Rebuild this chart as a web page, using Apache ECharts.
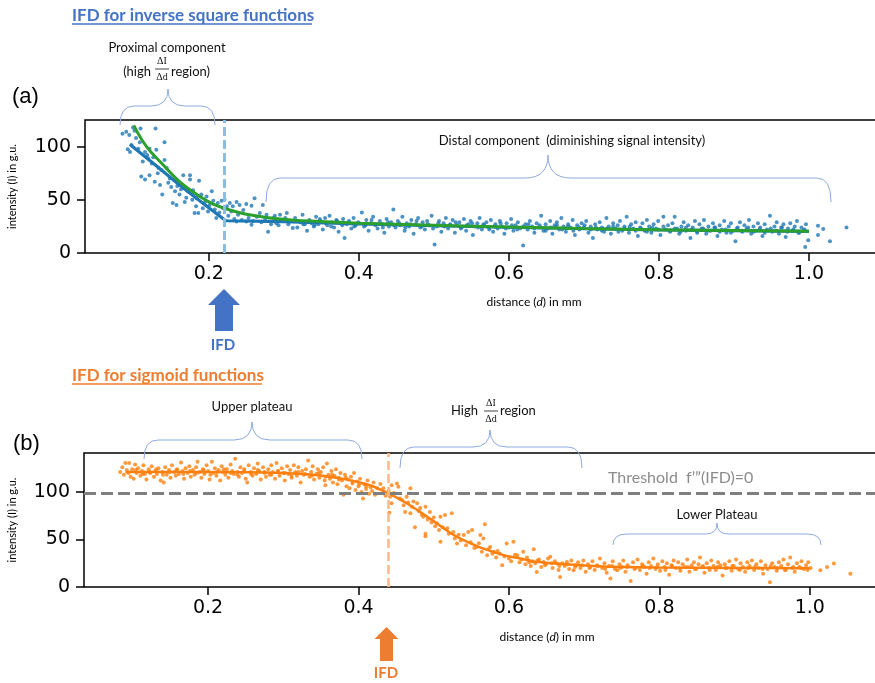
<!DOCTYPE html>
<html>
<head>
<meta charset="utf-8">
<script src="https://cdn.jsdelivr.net/npm/echarts@6/dist/echarts.min.js"></script>
<style>
  html, body { margin: 0; padding: 0; background: #fff; }
  #chart { width: 875px; height: 683px; }
</style>
</head>
<body>
<div id="chart"></div>
<script>
// tick labels
const xTicks = [0.2, 0.4, 0.6, 0.8, 1.0];
const yTicks = [0, 50, 100];

// IFD positions and threshold
const ifdA = 0.2227;
const ifdB = 0.437;
const thresholdB = 99;

// (a) inverse square: measured points
const scatterA = [
  [0.085,112],[0.090,114],[0.094,111],[0.099,118],[0.101,115],[0.109,117],[0.129,117],[0.141,104],
  [0.092,97.5],[0.095,95],[0.097,101.5],[0.106,98],[0.115,95],[0.121,98],[0.130,97],[0.112,86],
  [0.119,89],[0.124,84],[0.141,87.5],[0.110,72],[0.115,69],[0.121,73],[0.128,67],[0.135,64],
  [0.138,55],[0.132,75],[0.144,80],[0.148,70],[0.155,58],[0.152,47],[0.157,45],[0.161,55],
  [0.166,73],[0.168,48],[0.175,73],[0.175,69],[0.179,59],[0.181,37.5],[0.186,37.5],[0.187,68],
  [0.184,51.5],[0.190,55],[0.195,48],[0.199,39],[0.201,45],[0.204,58],[0.206,49],[0.210,33],
  [0.212,47],[0.217,49],[0.221,50],[0.224,44],[0.228,47],[0.232,44],[0.230,39],[0.237,48],
  [0.241,45],[0.246,40.5],[0.250,46],[0.257,44.5],[0.261,51.5],[0.257,26.5],[0.237,29.6],[0.250,29.6],
  [0.268,37.5],[0.272,45],[0.279,20],[0.277,36],[0.286,33],[0.295,36],[0.304,37.5],[0.308,29.6],
  [0.312,23.4],[0.290,28],
  [0.103,108],[0.108,104],[0.118,92],[0.126,90],[0.133,80],[0.137,78],[0.146,66],[0.150,62],
  [0.158,63],[0.163,60],[0.170,52],[0.172,58],[0.178,50],[0.183,44],[0.192,42],[0.197,53],
  [0.208,41],[0.214,38],[0.219,42],[0.226,35],[0.234,32],[0.239,36],[0.244,31],[0.253,33],
  [0.259,30],[0.264,34],[0.270,29],[0.275,31],[0.283,27],[0.288,35],[0.293,26],[0.299,30],
  [0.302,33],[0.306,27],
  [0.315,33],[0.318,24],[0.322,29],[0.325,36],[0.328,27],[0.331,21],[0.334,31],[0.337,28],
  [0.340,25],[0.343,34],[0.346,27],[0.349,30],[0.352,22],[0.355,33],[0.358,26],[0.361,35],
  [0.364,29],[0.367,24],[0.370,31],[0.373,20],[0.376,28],[0.379,32],[0.381,14],[0.384,27],
  [0.387,30],[0.390,23],[0.393,33],[0.396,26],[0.399,29],[0.404,38],[0.407,25],[0.410,31],
  [0.413,21],[0.416,28],[0.419,34],[0.422,26],[0.425,23],[0.428,30],[0.431,27],[0.434,19],
  [0.437,32],[0.440,25],[0.443,29],[0.446,41],[0.449,24],[0.452,30],[0.455,26],[0.458,34],
  [0.461,21],[0.464,28],[0.467,25],[0.470,31],[0.473,18],[0.476,27],[0.479,33],[0.482,24],
  [0.485,29],[0.488,22],[0.491,30],[0.494,26],[0.497,35],[0.501,8],[0.504,25],[0.507,30],
  [0.510,20],[0.513,28],[0.516,33],[0.519,23],[0.522,27],[0.525,31],[0.528,19],[0.531,26],
  [0.534,29],[0.537,24],[0.540,32],[0.543,21],[0.546,27],[0.549,30],[0.552,17],[0.555,25],
  [0.558,28],[0.561,33],[0.564,22],[0.567,26],[0.570,29],[0.573,24],[0.576,31],[0.579,20],
  [0.582,27],[0.585,23],[0.588,30],[0.591,25],[0.594,18],[0.597,28],[0.600,24],[0.603,32],
  [0.606,21],[0.609,26],[0.612,29],[0.615,23],[0.619,7],[0.622,27],[0.625,22],[0.628,30],
  [0.631,25],[0.634,19],[0.637,28],[0.640,24],[0.643,35],[0.646,21],[0.649,27],[0.652,23],
  [0.655,30],[0.658,18],[0.661,26],[0.664,29],[0.667,22],[0.670,33],[0.673,25],[0.676,20],
  [0.679,27],[0.682,24],[0.685,31],[0.688,17],[0.691,26],[0.694,22],[0.697,28],[0.700,24],
  [0.703,30],[0.706,19],[0.709,25],[0.712,14],[0.715,27],[0.718,22],[0.721,29],[0.724,24],
  [0.727,20],[0.730,33],[0.733,25],[0.736,18],[0.739,28],[0.742,23],[0.745,26],[0.748,30],
  [0.751,21],[0.754,25],[0.757,34],[0.760,19],[0.763,27],[0.766,23],[0.769,29],[0.772,16],
  [0.775,24],[0.778,28],[0.781,21],[0.784,31],[0.787,25],[0.790,19],[0.793,27],[0.796,23],
  [0.799,30],[0.802,17],[0.806,34],[0.809,22],[0.812,26],[0.815,20],[0.818,28],[0.821,34],
  [0.824,23],[0.827,18],[0.830,25],[0.833,29],[0.836,21],[0.839,26],[0.842,14],[0.845,24],
  [0.848,30],[0.851,20],[0.854,27],[0.857,23],[0.860,31],[0.863,18],[0.866,25],[0.869,21],
  [0.872,28],[0.875,24],[0.878,16],[0.881,26],[0.884,22],[0.887,30],[0.890,19],[0.893,25],
  [0.896,28],[0.899,21],[0.902,11],[0.905,24],[0.908,29],[0.911,20],[0.914,26],[0.917,23],
  [0.920,31],[0.923,18],[0.926,25],[0.929,21],[0.932,28],[0.935,24],[0.938,16],[0.941,27],
  [0.944,22],[0.948,35],[0.951,20],[0.954,25],[0.957,29],[0.960,18],[0.963,24],[0.966,27],
  [0.969,15],[0.972,23],[0.975,28],[0.978,21],[0.981,25],[0.984,30],[0.987,19],[0.990,24],
  [0.993,21],[0.996,27],[0.999,12],[0.995,5.6],[1.012,25.6],[1.019,22.5],[1.012,17],[1.028,11],
  [1.050,24],
  [0.317,30],[0.326,27],[0.333,29],[0.341,26],[0.348,32],[0.356,28],[0.363,25],[0.371,30],
  [0.378,26],[0.386,29],[0.394,25],[0.401,28],[0.409,26],[0.417,31],[0.424,27],[0.432,24],
  [0.439,29],[0.447,26],[0.454,28],[0.462,24],[0.469,27],[0.477,30],[0.484,25],[0.492,27],
  [0.499,23],[0.506,28],[0.514,25],[0.521,26],[0.529,29],[0.536,23],[0.544,26],[0.551,28],
  [0.559,24],[0.566,27],[0.574,22],[0.581,25],[0.589,28],[0.596,23],[0.604,26],[0.611,22],
  [0.619,25],[0.626,27],[0.634,23],[0.641,26],[0.649,21],[0.656,24],[0.664,26],[0.671,22],
  [0.679,25],[0.686,21],[0.694,24],[0.701,26],[0.709,22],[0.716,24],[0.724,21],[0.731,23],
  [0.739,25],[0.746,20],[0.754,23],[0.761,25],[0.769,21],[0.776,23],[0.784,20],[0.791,24],
  [0.799,22],[0.806,25],[0.814,21],[0.821,23],[0.829,20],[0.836,24],[0.844,22],[0.851,19],
  [0.859,23],[0.866,21],[0.874,24],[0.881,20],[0.889,22],[0.896,19],[0.904,23],[0.911,21],
  [0.919,24],[0.926,20],[0.934,22],[0.941,19],[0.949,23],[0.956,21],[0.964,24],[0.971,20],
  [0.979,22],[0.986,19],[0.994,22]
];

// (a) fits
const linearFitA = [
  [0.095,102],[0.13,82],[0.161,64],[0.19,48],[0.2227,30.3],[0.3,29.5],[0.4,27.3],
  [0.5,25.6],[0.6,24.2],[0.7,22.8],[0.8,21.7],[0.9,21],[1.0,20.3]
];
const curveFitA = [
  [0.1,120],[0.117,100],[0.139,83],[0.161,67],[0.184,55],[0.206,46],[0.228,40.5],[0.25,36.5],
  [0.295,32],[0.35,29.5],[0.4,28],[0.5,26],[0.6,24.4],[0.7,23],[0.8,21.9],[0.9,21.1],[1.0,20.5]
];

// (b) sigmoid: measured points
const scatterB = [
  [0.083,121],[0.086,126],[0.088,118],[0.090,130.6],[0.092,123],[0.095,130.6],[0.097,116],[0.099,124],
  [0.101,114],[0.103,129],[0.105,120],[0.107,125],[0.110,117],[0.112,122],[0.114,128],[0.116,119],
  [0.118,113],[0.121,124],[0.123,120],[0.125,127],[0.128,116],[0.130,122],[0.132,119],[0.134,125],
  [0.137,112],[0.139,121],[0.141,110],[0.143,126],[0.145,118],[0.148,123],[0.150,115],[0.152,128],
  [0.155,121],[0.157,117],[0.159,124],[0.161,119],[0.164,131],[0.166,122],[0.168,114],[0.170,125],
  [0.173,120],[0.175,127],[0.177,116],[0.180,123],[0.182,118],[0.184,126],[0.186,131.7],[0.189,121],
  [0.191,115],[0.193,124],[0.195,119],[0.198,128],[0.200,122],[0.202,113],[0.205,131.7],[0.207,120],
  [0.209,125],[0.211,117],[0.214,123],[0.216,112],[0.218,127],[0.220,121],[0.223,118],[0.225,124],
  [0.227,115],[0.230,129],[0.232,122],[0.234,119],[0.236,135],[0.239,121],[0.241,116],[0.243,126],
  [0.245,120],[0.248,124],[0.250,114],[0.252,110],[0.254,128],[0.257,121],[0.259,117],[0.261,125],
  [0.264,119],[0.266,130],[0.268,122],[0.270,113],[0.273,126],[0.275,120],[0.277,116],[0.280,124],
  [0.282,118],[0.284,128],[0.286,121],[0.289,114],[0.291,130.6],[0.293,122],[0.295,117],[0.298,125],
  [0.300,120],[0.302,112],[0.305,127],[0.307,119],[0.309,123],[0.311,115],[0.314,128],[0.316,121],
  [0.318,117],[0.320,126],[0.323,110],[0.325,122],[0.327,118],[0.330,124],[0.333,133],[0.335,116],
  [0.337,121],[0.339,127],[0.341,113],[0.344,119],[0.346,124],[0.348,115],[0.350,121],[0.353,126],
  [0.355,112],[0.356,107],[0.358,130],[0.360,118],[0.362,114],[0.364,122],[0.366,110],[0.368,117],
  [0.370,124],[0.372,108],[0.374,115],[0.376,120],[0.378,112],[0.380,97],[0.382,118],[0.384,106],
  [0.386,113],[0.388,104],[0.390,116],[0.392,109],[0.394,120],[0.396,102],[0.398,111],[0.400,106],
  [0.402,114],[0.404,100],[0.406,93],[0.408,108],[0.410,103],[0.412,112],[0.414,98],[0.416,105],
  [0.418,101],
  [0.420,110],[0.422,97],[0.425,104],[0.429,108.5],[0.433,104],[0.436,96],[0.440,101],[0.442,95],
  [0.444,107],[0.444,88],[0.441,78],[0.447,99],[0.451,109],[0.453,105.6],[0.455,93],[0.458,91.5],
  [0.460,86],[0.462,79],[0.464,95],[0.466,89],[0.469,104],[0.469,77.5],[0.471,84.5],[0.473,90],
  [0.475,63],[0.478,88],[0.480,80],[0.482,83],[0.484,76],[0.486,74],[0.489,84.5],[0.489,56],
  [0.489,53.5],[0.492,71],[0.495,79],[0.497,68],[0.500,73],[0.502,64],[0.504,67],[0.507,60],
  [0.509,74],[0.509,47.5],[0.512,63],[0.515,75.7],[0.518,61.7],[0.520,56],[0.524,77.5],[0.526,58],
  [0.528,51],[0.531,45.8],[0.533,55],[0.536,49],[0.540,54.6],[0.543,44],[0.546,58],[0.549,47],
  [0.551,60],[0.554,41],[0.557,42],[0.560,46],[0.562,54.6],[0.564,37],[0.566,51],[0.568,66],
  [0.571,33.5],[0.573,40],[0.575,42],[0.578,35],[0.580,37],[0.583,31],[0.585,38],[0.588,35],
  [0.591,23],[0.594,32],[0.597,45.8],[0.600,30],[0.603,27],[0.606,47.5],[0.608,34],[0.611,33.5],
  [0.614,26],[0.617,29],[0.619,37],[0.622,24],[0.624,31],[0.626,28],[0.629,22],[0.631,27],
  [0.633,39.8],[0.635,25],[0.637,15.8],[0.640,29],[0.643,21],[0.646,26.4],[0.649,24],[0.652,30],
  [0.655,31.7],[0.658,20],[0.661,27],[0.664,24.7],[0.666,18],[0.668,10.6],[0.671,25],[0.674,22],
  [0.677,26.4],[0.680,19],[0.683,28],[0.686,17.6],[0.689,23],[0.692,26],[0.695,20],[0.699,28],
  [0.702,16],[0.705,24],[0.708,21],[0.711,27],[0.714,18],[0.717,23],[0.721,30],[0.724,20],
  [0.727,25],[0.730,15],[0.733,22],[0.735,8.9],[0.738,27],[0.741,19],[0.744,17.6],[0.747,24],
  [0.750,21],[0.752,28],[0.755,16],[0.758,23],[0.762,6.3],[0.765,26],[0.768,20],[0.771,29],
  [0.774,18],[0.777,24],[0.780,21],[0.783,14],[0.786,26],[0.789,22],[0.792,30],[0.795,19],
  [0.798,24],[0.801,17],[0.804,27],[0.807,21],[0.810,25],[0.813,13],[0.816,23],[0.819,28],
  [0.822,20],[0.825,26],[0.828,17],[0.831,24],[0.834,21],[0.837,29],[0.840,16],[0.843,23],
  [0.846,26],[0.849,19],[0.852,24],[0.854,31],[0.857,21],[0.860,15],[0.863,25],[0.866,20],
  [0.869,28],[0.872,22],[0.875,18],[0.878,26],[0.881,23],[0.884,12],[0.887,24],[0.890,20],
  [0.893,27],[0.896,17],[0.899,22],[0.902,29],[0.905,19],[0.908,25],[0.911,21],[0.914,16],
  [0.917,26],[0.920,22],[0.923,28],[0.926,18],[0.929,24],[0.932,20],[0.935,27],[0.938,14],
  [0.941,23],[0.944,19],[0.947,5],[0.950,25],[0.953,21],[0.956,17],[0.959,26],[0.962,22],
  [0.965,29],[0.968,18],[0.971,24],[0.974,31],[0.977,20],[0.980,16],[0.983,25],[0.986,21],
  [0.989,27],[0.992,19],[0.995,23],[0.998,26],[1.001,20],[1.014,17.6],[1.023,21],[1.032,24.7],
  [1.054,14],
  [0.094,120],[0.104,123],[0.113,119],[0.122,121],[0.131,124],[0.140,118],[0.149,121],[0.158,123],
  [0.167,119],[0.176,122],[0.185,120],[0.194,123],[0.203,118],[0.212,121],[0.221,124],[0.230,120],
  [0.239,118],[0.248,122],[0.257,119],[0.266,123],[0.275,121],[0.284,118],[0.293,122],[0.302,120],
  [0.311,117],[0.320,121],[0.329,119],[0.338,117],[0.347,120],[0.356,116],[0.365,118],[0.374,113],
  [0.383,115],[0.392,111],[0.401,108],[0.410,106],
  [0.627,26],[0.638,28],[0.648,23],[0.657,25],[0.667,22],[0.678,24],[0.688,21],[0.697,23],
  [0.707,20],[0.718,22],[0.728,19],[0.737,22],[0.748,20],[0.757,21],[0.767,19],[0.778,22],
  [0.787,20],[0.797,21],[0.808,18],[0.817,22],[0.827,20],[0.838,21],[0.847,19],[0.858,22],
  [0.867,18],[0.877,21],[0.888,20],[0.897,22],[0.907,18],[0.918,20],[0.927,21],[0.937,19],
  [0.948,22],[0.957,20],[0.967,18],[0.978,21],[0.988,20],[0.997,18]
];

// (b) sigmoid fit
const sigmoidFitB = [
  [0.09,121],[0.2,121],[0.3,120],[0.34,118],[0.385,113],[0.415,107],[0.437,99.5],[0.46,90],
  [0.482,79],[0.504,67],[0.526,55],[0.549,46],[0.571,39],[0.593,33.5],[0.615,30],[0.637,26.5],
  [0.681,23.6],[0.726,21.5],[0.8,20.5],[0.9,20],[1.0,19.8]
];

const BLUE = '#1f77b4', GREEN = '#2ca02c', ORANGE = '#ff7f0e';
const OFFICE_BLUE = '#4472C4', OFFICE_ORANGE = '#ED7D31';
const BRACE = '#8FAADC';
const TICK_FONT = 'DejaVu Sans';
const NOTE_FONT = 'Lato';

function xAxisCfg(gridIndex) {
  return {
    type: 'value', gridIndex, min: 0.035, max: 1.104,
    axisLine: {show: false}, splitLine: {show: false},
    axisTick: {customValues: xTicks, length: 8, lineStyle: {color: '#000', width: 1.5}},
    axisLabel: {customValues: xTicks, formatter: v => v.toFixed(1), color: '#000',
      fontSize: 19, fontFamily: TICK_FONT, margin: 12}
  };
}
function yAxisCfg(gridIndex, max, gap) {
  return {
    type: 'value', gridIndex, min: 0, max,
    axisLine: {show: false}, splitLine: {show: false},
    axisTick: {customValues: yTicks, length: 8, lineStyle: {color: '#000', width: 1.5}},
    axisLabel: {customValues: yTicks, color: '#000', fontSize: 19, fontFamily: TICK_FONT, margin: 14},
    name: 'intensity (I) in g.u.', nameLocation: 'middle', nameGap: gap, nameRotate: 90,
    nameTextStyle: {fontSize: 11, fontFamily: NOTE_FONT, color: '#000'}
  };
}

// annotation helpers
function text(x, y, str, opts) {
  return {type: 'text', x, y, silent: true, style: Object.assign({
    text: str, fill: '#111', font: '13px ' + NOTE_FONT,
    textAlign: 'center', textVerticalAlign: 'middle', align: 'center', verticalAlign: 'middle'
  }, opts || {})};
}
function axisTitle(x, y) {
  return {type: 'text', x, y, silent: true, style: {
    text: 'distance ({i|d}) in mm', fill: '#000', fontSize: 12, fontFamily: NOTE_FONT,
    textAlign: 'center', textVerticalAlign: 'middle', align: 'center', verticalAlign: 'middle',
    rich: {i: {fontStyle: 'italic', fontSize: 12, fontFamily: NOTE_FONT, fill: '#000'}}
  }};
}
function seg(x1, y1, x2, y2) {
  return {type: 'line', silent: true, shape: {x1, y1, x2, y2},
    style: {stroke: BRACE, lineWidth: 1}};
}
function curve(x1, y1, cx, cy, x2, y2) {
  return {type: 'bezierCurve', silent: true,
    shape: {x1, y1, x2, y2, cpx1: cx, cpy1: cy},
    style: {fill: null, stroke: BRACE, lineWidth: 1}};
}
// curly brace opening downward onto a region
function brace(x1, x2, xm, yEnd, yBar, yTip) {
  const r = Math.min(14, (x2 - x1) / 6), t = yBar - yTip;
  return [
    curve(x1, yEnd, x1, yBar, x1 + r, yBar),
    seg(x1 + r, yBar, xm - t, yBar),
    curve(xm - t, yBar, xm, yBar, xm, yTip),
    curve(xm, yTip, xm, yBar, xm + t, yBar),
    seg(xm + t, yBar, x2 - r, yBar),
    curve(x2 - r, yBar, x2, yBar, x2, yEnd)
  ];
}
function arrow(cx, yTip, yHead, yEnd, headHalf, shaftHalf, color) {
  return {type: 'polygon', silent: true, shape: {points: [
    [cx, yTip], [cx + headHalf, yHead], [cx + shaftHalf, yHead], [cx + shaftHalf, yEnd],
    [cx - shaftHalf, yEnd], [cx - shaftHalf, yHead], [cx - headHalf, yHead]
  ]}, style: {fill: color}};
}
function frac(cx, yTop, yBar, yBot, half) {
  const f = '10px "Liberation Serif"';
  return [
    text(cx, yTop, '\u0394I', {font: f}),
    {type: 'line', silent: true, shape: {x1: cx - half, y1: yBar, x2: cx + half, y2: yBar},
      style: {stroke: '#111', lineWidth: 0.8}},
    text(cx, yBot, '\u0394d', {font: f})
  ];
}
function title(x, y, str, color, underlineW) {
  return [
    text(x, y, str, {font: 'bold 17px ' + NOTE_FONT, fill: color, textAlign: 'left', align: 'left'}),
    {type: 'line', silent: true, shape: {x1: x, y1: y + 8, x2: x + underlineW, y2: y + 8},
      style: {stroke: color, lineWidth: 1.3}}
  ];
}

const graphics = [].concat(
  title(72, 16, 'IFD for inverse square functions', OFFICE_BLUE, 240),
  title(72, 376, 'IFD for sigmoid functions', OFFICE_ORANGE, 190),
  [
    text(12, 97, '(a)', {font: '22px "Liberation Sans"', fill: '#000', textAlign: 'left', align: 'left'}),
    text(13, 444, '(b)', {font: '22px "Liberation Sans"', fill: '#000', textAlign: 'left', align: 'left'}),
    axisTitle(534, 302),
    axisTitle(547, 637),
    text(167, 48, 'Proximal component'),
    text(151, 72, '(high', {textAlign: 'right', align: 'right'}),
    text(171, 72, 'region)', {textAlign: 'left', align: 'left'}),
    text(572, 141, 'Distal component  (diminishing signal intensity)'),
    text(252, 407, 'Upper plateau'),
    text(478, 411, 'High', {textAlign: 'right', align: 'right'}),
    text(500, 411, 'region', {textAlign: 'left', align: 'left'}),
    text(717, 515, 'Lower Plateau'),
    text(608, 478, 'Threshold  f\u2019\u201D(IFD)=0',
      {font: '16px ' + NOTE_FONT, fill: '#8c8c8c', textAlign: 'left', align: 'left'}),
    arrow(224, 289, 305, 331, 16, 9, OFFICE_BLUE),
    text(223, 345, 'IFD', {font: 'bold 15px ' + NOTE_FONT, fill: OFFICE_BLUE}),
    arrow(386.5, 627, 639, 661, 12, 6.5, OFFICE_ORANGE),
    text(386, 673, 'IFD', {font: 'bold 15px ' + NOTE_FONT, fill: OFFICE_ORANGE})
  ],
  brace(120, 215, 168, 125, 106, 89),
  brace(266, 831, 548, 202, 178, 155),
  brace(144, 362, 252, 459, 440, 422),
  brace(400, 582, 490, 468, 447, 430),
  brace(613, 821, 717, 545, 534, 523),
  frac(162, 61, 69, 77, 7),
  frac(491, 403, 411, 419, 7)
);

const chart = echarts.init(document.getElementById('chart'));
chart.setOption({
  animation: false,
  backgroundColor: '#fff',
  grid: [
    {left: 85, top: 120, width: 802, height: 133, outerBoundsMode: 'none',
      show: true, borderColor: '#000', borderWidth: 1.5},
    {left: 84, top: 453, width: 804, height: 134, outerBoundsMode: 'none',
      show: true, borderColor: '#000', borderWidth: 1.5}
  ],
  xAxis: [xAxisCfg(0), xAxisCfg(1)],
  yAxis: [yAxisCfg(0, 125, 67), yAxisCfg(1, 141, 66)],
  graphic: graphics,
  series: [
    {
      type: 'scatter', xAxisIndex: 0, yAxisIndex: 0, data: scatterA,
      symbolSize: 4, itemStyle: {color: BLUE},
      markLine: {silent: true, symbol: ['none', 'none'], label: {show: false},
        lineStyle: {color: '#89BEDF', width: 3, type: [9, 4]}, data: [{xAxis: ifdA}]}
    },
    {
      type: 'line', xAxisIndex: 0, yAxisIndex: 0, data: linearFitA,
      showSymbol: false, lineStyle: {color: BLUE, width: 3.2}
    },
    {
      type: 'line', xAxisIndex: 0, yAxisIndex: 0, data: curveFitA, smooth: 0.4,
      showSymbol: false, lineStyle: {color: GREEN, width: 3}
    },
    {
      type: 'scatter', xAxisIndex: 1, yAxisIndex: 1, data: scatterB,
      symbolSize: 4, itemStyle: {color: ORANGE},
      markLine: {silent: true, symbol: ['none', 'none'], label: {show: false},
        lineStyle: {color: '#F9B98A', width: 2.5, type: [9, 4]}, data: [{xAxis: ifdB}]}
    },
    {
      type: 'line', xAxisIndex: 1, yAxisIndex: 1, data: sigmoidFitB, smooth: 0.3,
      showSymbol: false, lineStyle: {color: ORANGE, width: 2.5},
      markLine: {silent: true, symbol: ['none', 'none'], label: {show: false},
        lineStyle: {color: '#7f7f7f', width: 3, type: [12, 5]}, data: [{yAxis: thresholdB}]}
    }
  ]
});
</script>
</body>
</html>
